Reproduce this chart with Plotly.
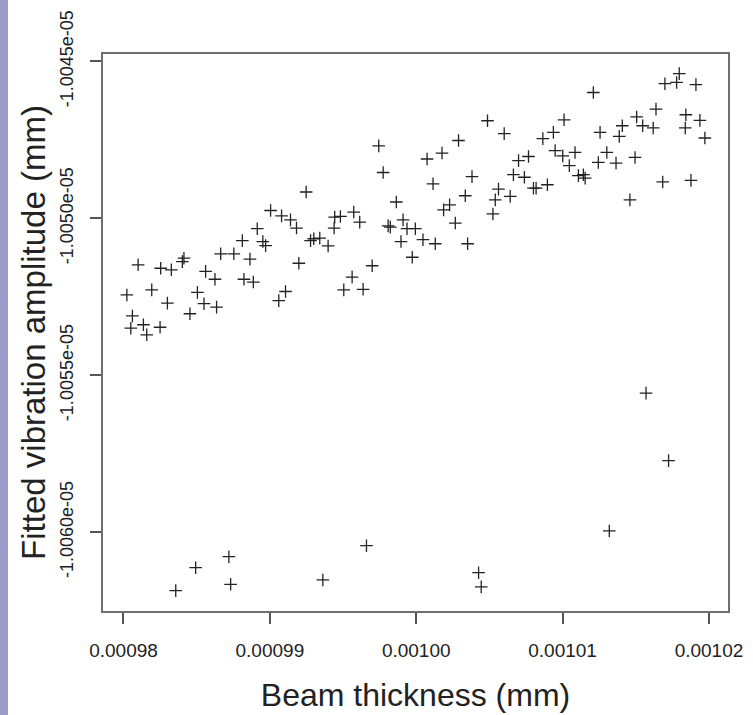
import plotly.graph_objects as go

# Beam thickness (mm)
thickness = [
    0.00099744, 0.00099774, 0.00099248, 0.00099864, 0.00099005, 0.00099080, 0.00099141, 0.00099182,
    0.00098914, 0.00099443, 0.00099482, 0.00099573, 0.00099614, 0.00099439, 0.00099808, 0.00099823,
    0.00099910, 0.00099937, 0.00099994, 0.00099896, 0.00099973, 0.00098812, 0.00098952, 0.00098971,
    0.00099278, 0.00099300, 0.00099341, 0.00099398, 0.00098864, 0.00098664, 0.00098754, 0.00098413,
    0.00098402, 0.00098100, 0.00098254, 0.00098327, 0.00098561, 0.00098625, 0.00099198, 0.00099699,
    0.00099562, 0.00099505, 0.00099637, 0.00098823, 0.00098887, 0.00098023, 0.00098193, 0.00098300,
    0.00098505, 0.00098550, 0.00098636, 0.00098454, 0.00099107, 0.00099061, 0.00098061, 0.00098050,
    0.00098136, 0.00098250, 0.00098159,
    0.00101797, 0.00101699, 0.00101779, 0.00101911, 0.00101210, 0.00101638, 0.00101842, 0.00101938,
    0.00101838, 0.00101972, 0.00101506, 0.00101547, 0.00101619, 0.00101408, 0.00101387, 0.00101256,
    0.00101010, 0.00100937, 0.00100865, 0.00100487, 0.00100601, 0.00100289, 0.00100176, 0.00100074,
    0.00100949, 0.00101001, 0.00101085, 0.00101046, 0.00101108, 0.00101142, 0.00101154, 0.00101302,
    0.00101244, 0.00101365, 0.00101495, 0.00101684, 0.00101877, 0.00101460, 0.00100699, 0.00100767,
    0.00100664, 0.00100739, 0.00100801, 0.00100819, 0.00100896, 0.00100381, 0.00100115, 0.00100335,
    0.00100562, 0.00100540, 0.00100642, 0.00100524, 0.00100187, 0.00100228, 0.00100267, 0.00100046,
    0.00100130, 0.00100351,
    0.00099660, 0.00098720, 0.00098493, 0.00098732, 0.00098357, 0.00099362, 0.00101570, 0.00101724,
    0.00101319, 0.00100426, 0.00100444,
]

# Fitted vibration amplitude (mm)
amplitude = [
    -1.004769e-05, -1.004854e-05, -1.004916e-05, -1.004948e-05, -1.004975e-05, -1.004992e-05, -1.005005e-05, -1.005031e-05,
    -1.005033e-05, -1.004996e-05, -1.004994e-05, -1.004980e-05, -1.005012e-05, -1.005031e-05, -1.005024e-05, -1.005028e-05,
    -1.005005e-05, -1.005033e-05, -1.005033e-05, -1.005074e-05, -1.005124e-05, -1.005071e-05, -1.005074e-05, -1.005087e-05,
    -1.005071e-05, -1.005065e-05, -1.005063e-05, -1.005088e-05, -1.005130e-05, -1.005113e-05, -1.005113e-05, -1.005127e-05,
    -1.005138e-05, -1.005148e-05, -1.005159e-05, -1.005164e-05, -1.005169e-05, -1.005194e-05, -1.005143e-05, -1.005151e-05,
    -1.005187e-05, -1.005228e-05, -1.005226e-05, -1.005194e-05, -1.005203e-05, -1.005244e-05, -1.005228e-05, -1.005270e-05,
    -1.005236e-05, -1.005272e-05, -1.005283e-05, -1.005304e-05, -1.005233e-05, -1.005262e-05, -1.005311e-05, -1.005350e-05,
    -1.005339e-05, -1.005347e-05, -1.005371e-05,
    -1.004539e-05, -1.004571e-05, -1.004567e-05, -1.004574e-05, -1.004599e-05, -1.004652e-05, -1.004670e-05, -1.004688e-05,
    -1.004712e-05, -1.004744e-05, -1.004677e-05, -1.004705e-05, -1.004712e-05, -1.004705e-05, -1.004739e-05, -1.004726e-05,
    -1.004686e-05, -1.004726e-05, -1.004746e-05, -1.004689e-05, -1.004730e-05, -1.004752e-05, -1.004792e-05, -1.004811e-05,
    -1.004784e-05, -1.004801e-05, -1.004790e-05, -1.004832e-05, -1.004864e-05, -1.004861e-05, -1.004872e-05, -1.004790e-05,
    -1.004822e-05, -1.004824e-05, -1.004806e-05, -1.004884e-05, -1.004879e-05, -1.004941e-05, -1.004816e-05, -1.004803e-05,
    -1.004861e-05, -1.004869e-05, -1.004904e-05, -1.004904e-05, -1.004893e-05, -1.004867e-05, -1.004890e-05, -1.004928e-05,
    -1.004907e-05, -1.004941e-05, -1.004930e-05, -1.004986e-05, -1.004973e-05, -1.004957e-05, -1.005015e-05, -1.005068e-05,
    -1.005081e-05, -1.005081e-05,
    -1.006043e-05, -1.006078e-05, -1.006113e-05, -1.006166e-05, -1.006186e-05, -1.006152e-05, -1.005557e-05, -1.005772e-05,
    -1.005996e-05, -1.006129e-05, -1.006174e-05,
]

x_ticks = [0.00098, 0.00099, 0.00100, 0.00101, 0.00102]
x_tick_labels = ["0.00098", "0.00099", "0.00100", "0.00101", "0.00102"]
y_ticks = [-1.0045e-05, -1.0050e-05, -1.0055e-05, -1.0060e-05]
y_tick_labels = ["-1.0045e-05", "-1.0050e-05", "-1.0055e-05", "-1.0060e-05"]

fig = go.Figure()
fig.add_trace(go.Scatter(
    x=thickness, y=amplitude, mode="markers",
    marker=dict(symbol="cross-thin-open", size=9, color="#222222",
                line=dict(width=1.3, color="#222222")),
    hoverinfo="x+y", showlegend=False,
))

font_family = "Liberation Sans, Arial, sans-serif"

fig.update_layout(
    width=753, height=715,
    margin=dict(l=103, r=25, t=54, b=104),
    paper_bgcolor="white", plot_bgcolor="white",
    font=dict(family=font_family, color="#222222"),
    xaxis=dict(
        range=[0.0009786, 0.0010213],
        tickvals=x_ticks, ticktext=x_tick_labels,
        ticks="outside", ticklen=11, tickwidth=1.5, tickcolor="#555555",
        tickfont=dict(size=19, color="#222222"),
        ticklabelstandoff=10, automargin=False,
        showgrid=False, zeroline=False,
        showline=True, mirror=True, linecolor="#6e6e6e", linewidth=1.5,
        title=dict(text="Beam thickness (mm)", font=dict(size=32, color="#222222"), standoff=24),
    ),
    yaxis=dict(
        range=[-1.006251e-05, -1.0044764e-05],
        tickvals=y_ticks, ticktext=y_tick_labels, tickangle=-90,
        ticks="outside", ticklen=11, tickwidth=1.5, tickcolor="#555555",
        tickfont=dict(size=18, color="#222222"),
        ticklabelstandoff=10, automargin=False,
        showgrid=False, zeroline=False,
        showline=True, mirror=True, linecolor="#6e6e6e", linewidth=1.5,
        title=dict(text="Fitted vibration amplitude (mm)", font=dict(size=33, color="#222222"), standoff=1),
    ),
    shapes=[dict(type="rect", xref="paper", yref="paper",
                 x0=-103 / 625, x1=(8 - 103) / 625, y0=-104 / 557, y1=1 + 54 / 557,
                 fillcolor="#9c9ccc", line=dict(width=0), layer="below")],
)

fig.write_html("out.html")
